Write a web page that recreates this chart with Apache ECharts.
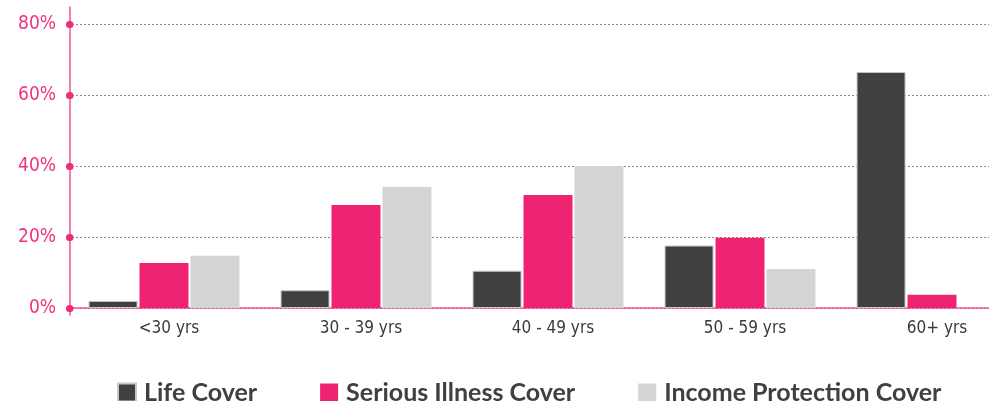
<!DOCTYPE html>
<html>
<head>
<meta charset="utf-8">
<script src="https://cdn.jsdelivr.net/npm/echarts@6/dist/echarts.min.js"></script>
<style>html,body{margin:0;padding:0;background:#fff}#c{width:989px;height:401px}</style>
</head>
<body>
<div id="c"></div>
<script>
const categories = ['<30 yrs', '30 - 39 yrs', '40 - 49 yrs', '50 - 59 yrs', '60+ yrs'];
const lifeCover = [2, 5, 10.5, 17.6, 66.5];
const seriousIllness = [12.7, 29, 31.8, 19.8, 3.7];
const incomeProtection = [14.7, 34.1, 40, 11, null];
const yTicks = [0, 20, 40, 60, 80];
const seriesNames = ['Life Cover', 'Serious Illness Cover', 'Income Protection Cover'];

const chart = echarts.init(document.getElementById('c'));
const pinkAxis = '#f2548f';
const condensed = '"DejaVu Sans Condensed", Roboto';
chart.setOption({
  animation: false,
  grid: [
    { left: 68, width: 960, top: 24, bottom: 93, containLabel: false, outerBoundsMode: 'none' },
    { left: 70, width: 10, top: 7, bottom: 86, containLabel: false, outerBoundsMode: 'none' }
  ],
  legend: {
    data: seriesNames,
    left: 117, top: 380, padding: 0,
    itemWidth: 18, itemHeight: 18, itemGap: 63,
    icon: 'rect',
    textStyle: { fontFamily: 'Lato', fontWeight: 'bold', fontSize: 25, color: '#404040', padding: [0, 0, 0, 3] }
  },
  xAxis: [
    {
      type: 'category', data: categories, gridIndex: 0,
      axisLine: { lineStyle: { color: pinkAxis, width: 1.5 } },
      axisTick: { show: false },
      axisLabel: { color: '#3a3a3a', fontFamily: condensed, fontSize: 17, margin: 12, padding: [0, 0, 0, 10] }
    },
    { type: 'value', gridIndex: 1, show: false, min: 0, max: 1 }
  ],
  yAxis: [
    {
      type: 'value', gridIndex: 0, min: 0, max: 80, interval: 20, offset: -2,
      axisLine: { show: false },
      axisTick: { show: true, length: 0.5, lineStyle: { color: '#ee2a7b', width: 7, cap: 'round' } },
      axisLabel: { color: '#ee3381', fontFamily: condensed, fontSize: 19, margin: 14, formatter: v => v + '%' },
      splitLine: { lineStyle: { color: '#8a8a8a', type: [2, 2], width: 1 } }
    },
    {
      type: 'value', gridIndex: 1, min: 0, max: 1,
      axisLine: { show: true, lineStyle: { color: pinkAxis, width: 1.5 } },
      axisTick: { show: false }, axisLabel: { show: false }, splitLine: { show: false }
    }
  ],
  series: [
    { name: seriesNames[0], type: 'bar', data: lifeCover, barWidth: 49, barGap: '4%',
      itemStyle: { color: '#404040', borderColor: '#c8c8c8', borderWidth: 1 } },
    { name: seriesNames[1], type: 'bar', data: seriousIllness, barWidth: 49, barGap: '4%',
      itemStyle: { color: '#ee2472' } },
    { name: seriesNames[2], type: 'bar', data: incomeProtection, barWidth: 49, barGap: '4%',
      itemStyle: { color: '#d3d4d6' } }
  ]
});
</script>
</body>
</html>
